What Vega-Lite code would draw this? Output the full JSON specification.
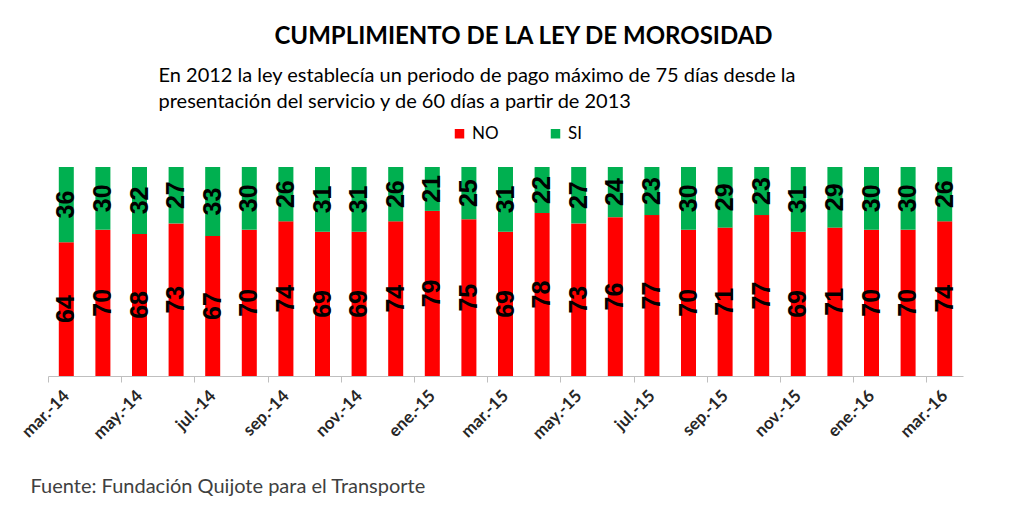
{
  "$schema": "https://vega.github.io/schema/vega-lite/v6.json",
  "width": 915,
  "height": 209,
  "autosize": {"type": "none"},
  "padding": {"left": 48, "top": 167, "right": 63, "bottom": 131},
  "background": "white",
  "config": {"view": {"stroke": null}},
  "title": {
    "text": "CUMPLIMIENTO DE LA LEY DE MOROSIDAD",
    "anchor": "middle",
    "frame": "group",
    "orient": "top",
    "baseline": "bottom",
    "offset": 16,
    "dx": 18,
    "dy": 24,
    "font": "Lato",
    "fontSize": 24,
    "fontWeight": "bold",
    "color": "#000000"
  },
  "data": {
    "values": [
      {"month": "mar.-14", "serie": "NO", "value": 64}, {"month": "mar.-14", "serie": "SI", "value": 36},
      {"month": "abr.-14", "serie": "NO", "value": 70}, {"month": "abr.-14", "serie": "SI", "value": 30},
      {"month": "may.-14", "serie": "NO", "value": 68}, {"month": "may.-14", "serie": "SI", "value": 32},
      {"month": "jun.-14", "serie": "NO", "value": 73}, {"month": "jun.-14", "serie": "SI", "value": 27},
      {"month": "jul.-14", "serie": "NO", "value": 67}, {"month": "jul.-14", "serie": "SI", "value": 33},
      {"month": "ago.-14", "serie": "NO", "value": 70}, {"month": "ago.-14", "serie": "SI", "value": 30},
      {"month": "sep.-14", "serie": "NO", "value": 74}, {"month": "sep.-14", "serie": "SI", "value": 26},
      {"month": "oct.-14", "serie": "NO", "value": 69}, {"month": "oct.-14", "serie": "SI", "value": 31},
      {"month": "nov.-14", "serie": "NO", "value": 69}, {"month": "nov.-14", "serie": "SI", "value": 31},
      {"month": "dic.-14", "serie": "NO", "value": 74}, {"month": "dic.-14", "serie": "SI", "value": 26},
      {"month": "ene.-15", "serie": "NO", "value": 79}, {"month": "ene.-15", "serie": "SI", "value": 21},
      {"month": "feb.-15", "serie": "NO", "value": 75}, {"month": "feb.-15", "serie": "SI", "value": 25},
      {"month": "mar.-15", "serie": "NO", "value": 69}, {"month": "mar.-15", "serie": "SI", "value": 31},
      {"month": "abr.-15", "serie": "NO", "value": 78}, {"month": "abr.-15", "serie": "SI", "value": 22},
      {"month": "may.-15", "serie": "NO", "value": 73}, {"month": "may.-15", "serie": "SI", "value": 27},
      {"month": "jun.-15", "serie": "NO", "value": 76}, {"month": "jun.-15", "serie": "SI", "value": 24},
      {"month": "jul.-15", "serie": "NO", "value": 77}, {"month": "jul.-15", "serie": "SI", "value": 23},
      {"month": "ago.-15", "serie": "NO", "value": 70}, {"month": "ago.-15", "serie": "SI", "value": 30},
      {"month": "sep.-15", "serie": "NO", "value": 71}, {"month": "sep.-15", "serie": "SI", "value": 29},
      {"month": "oct.-15", "serie": "NO", "value": 77}, {"month": "oct.-15", "serie": "SI", "value": 23},
      {"month": "nov.-15", "serie": "NO", "value": 69}, {"month": "nov.-15", "serie": "SI", "value": 31},
      {"month": "dic.-15", "serie": "NO", "value": 71}, {"month": "dic.-15", "serie": "SI", "value": 29},
      {"month": "ene.-16", "serie": "NO", "value": 70}, {"month": "ene.-16", "serie": "SI", "value": 30},
      {"month": "feb.-16", "serie": "NO", "value": 70}, {"month": "feb.-16", "serie": "SI", "value": 30},
      {"month": "mar.-16", "serie": "NO", "value": 74}, {"month": "mar.-16", "serie": "SI", "value": 26}
    ]
  },
  "encoding": {
    "x": {
      "field": "month",
      "type": "nominal",
      "sort": null,
      "scale": {"paddingInner": 0.59, "paddingOuter": 0.295},
      "axis": {
        "values": ["mar.-14", "may.-14", "jul.-14", "sep.-14", "nov.-14", "ene.-15", "mar.-15", "may.-15", "jul.-15", "sep.-15", "nov.-15", "ene.-16", "mar.-16"],
        "labelAngle": -45,
        "labelAlign": "right",
        "labelBaseline": "middle",
        "labelFont": "Lato",
        "labelFontWeight": "bold",
        "labelFontSize": 17,
        "labelColor": "#262626",
        "labelPadding": 11,
        "tickOffset": -18.3,
        "labelOffset": 18.3,
        "tickSize": 6,
        "tickColor": "#bfbfbf",
        "domainColor": "#bfbfbf",
        "grid": false,
        "title": "Fuente: Fundación Quijote para el Transporte",
        "titleX": -18,
        "titleY": 110,
        "titleAlign": "left",
        "titleBaseline": "middle",
        "titleFont": "Lato",
        "titleFontSize": 20,
        "titleFontWeight": "normal",
        "titleColor": "#404040"
      }
    },
    "y": {
      "field": "value",
      "type": "quantitative",
      "stack": "zero",
      "scale": {"domain": [0, 100]},
      "axis": {
        "labels": false,
        "ticks": false,
        "domain": false,
        "grid": false,
        "title": ["En 2012 la ley establecía un periodo de pago máximo de 75 días desde la", "presentación del servicio y de 60 días a partir de 2013"],
        "titleAngle": 0,
        "titleAlign": "left",
        "titleBaseline": "top",
        "titleX": 110,
        "titleY": -102,
        "titleLineHeight": 26,
        "titleFont": "Lato",
        "titleFontSize": 20,
        "titleFontWeight": "normal",
        "titleColor": "#000000"
      }
    },
    "order": {"field": "serie", "sort": "ascending"}
  },
  "layer": [
    {
      "mark": {"type": "bar"},
      "encoding": {
        "color": {
          "field": "serie",
          "type": "nominal",
          "scale": {"domain": ["NO", "SI"], "range": ["#FF0000", "#00B050"]},
          "legend": {
            "orient": "none",
            "legendX": 403,
            "legendY": -42,
            "direction": "horizontal",
            "title": null,
            "symbolType": "square",
            "symbolSize": 90,
            "symbolStrokeWidth": 0,
            "labelFont": "Lato",
            "labelFontSize": 17,
            "labelColor": "#000000",
            "labelOffset": 4,
            "columnPadding": 48
          }
        }
      }
    },
    {
      "mark": {"type": "text", "angle": 270, "font": "Liberation Sans", "fontWeight": "bold", "fontSize": 25, "color": "#000000", "align": "center", "baseline": "middle"},
      "encoding": {
        "y": {"field": "value", "type": "quantitative", "stack": "zero", "bandPosition": 0.5},
        "detail": {"field": "serie"},
        "text": {"field": "value", "type": "quantitative"}
      }
    }
  ]
}
